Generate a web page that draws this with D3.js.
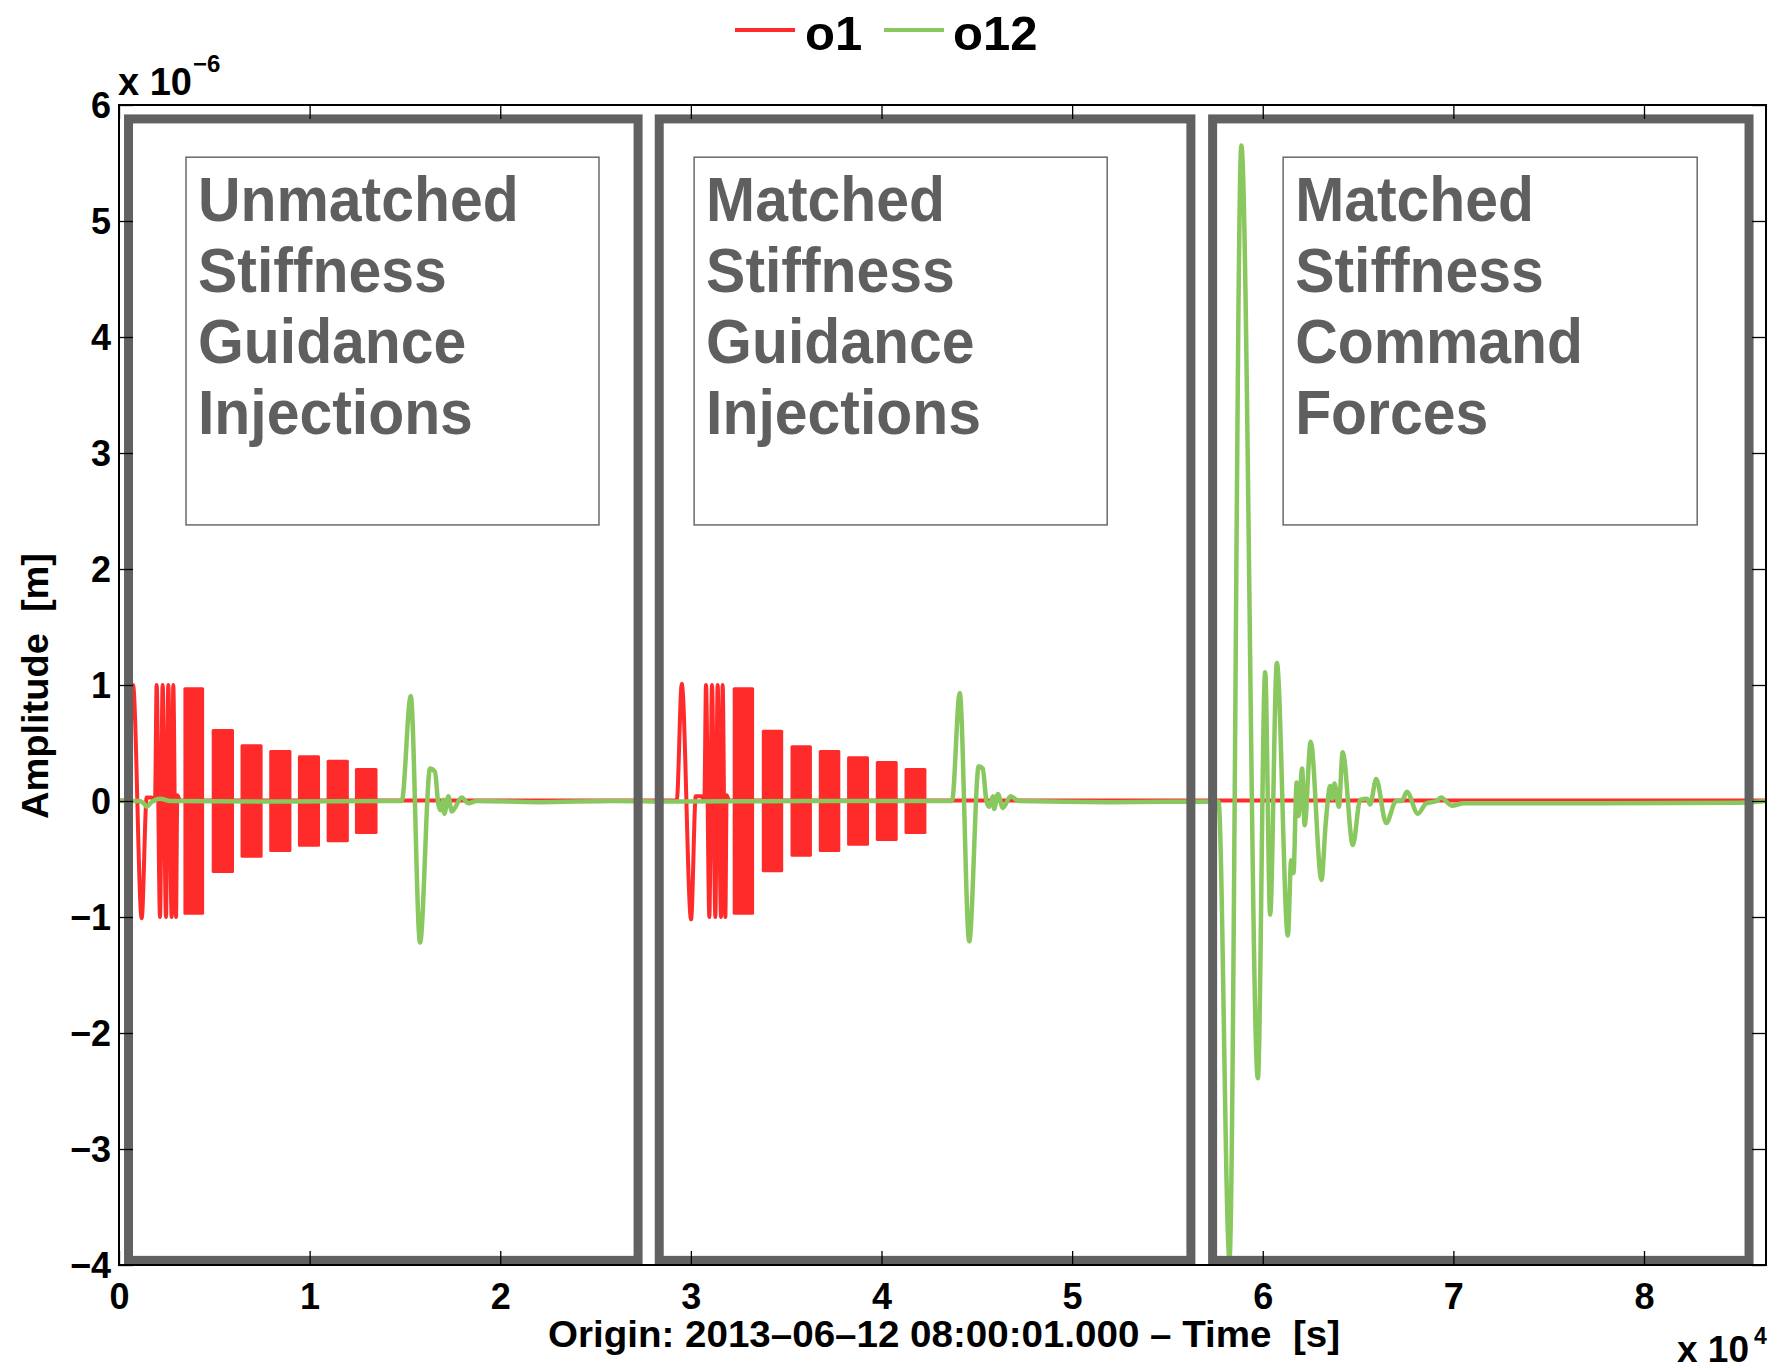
<!DOCTYPE html>
<html>
<head>
<meta charset="utf-8">
<script src="https://cdn.jsdelivr.net/npm/d3@7"></script>
<style>
  body { margin: 0; background: #fff; }
  svg { display: block; }
</style>
</head>
<body>
<svg id="chart" width="1778" height="1370"></svg>
<script>
// ---- axis ticks: time in units of 10^4 s, amplitude in units of 10^-6 m ----
const xTickValues = [0, 10000, 20000, 30000, 40000, 50000, 60000, 70000, 80000];
const xTickLabels = ["0", "1", "2", "3", "4", "5", "6", "7", "8"];
const yTickValues = [-4, -3, -2, -1, 0, 1, 2, 3, 4, 5, 6];
const yTickLabels = ["\u22124", "\u22123", "\u22122", "\u22121", "0", "1", "2", "3", "4", "5", "6"];

const seriesNames = ["o1", "o12"];

// o1: baseline plus the slow single-cycle and few-cycle injections [t (s), amplitude]
const o1Trace = [
  [0, 0.005], [456, 0.005], [735, 1.0], [1190, -1.01], [1453, 0.03], [1700, 0.03], [1889, 0.005],
  [1976, 1.0], [2151, -1.0], [2290, 1.0], [2466, -1.0], [2586, 1.0], [2763, -1.0], [2848, 1.0],
  [2990, -1.0], [3059, 0.05], [3200, 0.005],
  [29260, 0.005], [29522, 1.01], [30010, -1.02], [30257, 0.04], [30560, 0.04], [30707, 0.005],
  [30794, 1.0], [30969, -1.0], [31108, 1.0], [31284, -1.0], [31404, 1.0], [31581, -1.0], [31666, 1.0],
  [31808, -1.0], [31877, 0.05], [32000, 0.005],
  [86400, 0.005]
];

// o1: fast sinusoidal bursts, drawn as their envelope
const burstStart = [3379, 4864, 6375, 7880, 9386, 10892, 12377,
                    32193, 33720, 35226, 36710, 38195, 39701, 41207];
const burstEnd   = [4465, 6033, 7534, 9045, 10545, 12057, 13562,
                    33316, 34843, 36349, 37838, 39344, 40850, 42356];
const burstAmp   = [0.98, 0.62, 0.49, 0.44, 0.395, 0.355, 0.285,
                    0.98, 0.615, 0.48, 0.44, 0.385, 0.345, 0.285];

// o12 response [t (s), amplitude]
const o12Trace = [
  [0, 0.0], [1050, 0.0], [1300, -0.02], [1453, -0.05], [1700, -0.01], [2150, 0.02], [2700, 0.0],
  [8000, -0.005], [14600, 0.0], [14832, 0.0],
  [15304, 0.905], [15792, -1.22], [16317, 0.28], [16579, 0.25], [16752, -0.03], [16878, -0.08],
  [17014, 0.01], [17067, -0.11], [17277, 0.04], [17455, -0.09], [17980, 0.03], [18326, -0.02],
  [18767, 0.0], [22000, -0.01], [26000, 0.0], [29000, -0.005], [36000, 0.0], [43400, 0.0], [43699, 0.0],
  [44103, 0.93], [44601, -1.21], [45100, 0.30], [45310, 0.28], [45504, 0.0], [45645, -0.05],
  [45850, 0.04], [45907, -0.07], [46107, 0.06], [46369, -0.06], [46773, 0.04], [47214, 0.0],
  [52000, -0.01], [57676, -0.005],
  [58253, -3.95], [58877, 5.65], [59743, -2.39], [60126, 1.11], [60388, -0.98], [60740, 1.19],
  [61317, -1.16], [61490, -0.51], [61611, -0.62], [61779, 0.16], [61873, -0.13], [62067, 0.28],
  [62198, -0.21], [62513, 0.51], [63080, -0.68], [63300, -0.2], [63536, 0.13], [63641, 0.02],
  [63762, 0.15], [63993, -0.05], [64192, 0.42], [64727, -0.38], [65110, 0.01], [65462, 0.02],
  [65635, -0.03], [65950, 0.19], [66474, -0.19], [66999, 0.0], [67298, 0.0], [67560, 0.08],
  [68137, -0.11], [68573, -0.02], [69134, 0.0], [69344, 0.03], [69921, -0.04], [70530, -0.02],
  [78000, -0.02], [85000, -0.015], [86400, 0.0]
];

// experiment phases (time windows) and their descriptions
const phaseStart = [500, 28340, 57370];
const phaseEnd   = [27230, 56230, 85510];
const noteStart  = [3515, 30170, 61070];
const noteEnd    = [25180, 51840, 82790];
const phaseLabels = [
  ["Unmatched", "Stiffness", "Guidance", "Injections"],
  ["Matched", "Stiffness", "Guidance", "Injections"],
  ["Matched", "Stiffness", "Command", "Forces"]
];

// ---- drawing ----
const FONT = "'Liberation Sans', Arial, Helvetica, sans-serif";
const RED = "#ff2a2a";
const GREEN = "#88c85f";
const FRAME = "#616161";

const x = d3.scaleLinear().domain([0, 86400]).range([119, 1766]);
const y = d3.scaleLinear().domain([-4, 6]).range([1265, 105]);

const svg = d3.select("#chart");
svg.append("rect").attr("width", 1778).attr("height", 1370).attr("fill", "#fff");

svg.append("defs").append("clipPath").attr("id", "plotClip")
  .append("rect").attr("x", x(0)).attr("y", y(6))
  .attr("width", x(86400) - x(0)).attr("height", y(-4) - y(6));

const plot = svg.append("g").attr("clip-path", "url(#plotClip)");

const line = d3.line().x(d => x(d[0])).y(d => y(d[1])).curve(d3.curveMonotoneX);

// o1 trace
plot.append("path").datum(o1Trace)
  .attr("d", line).attr("fill", "none")
  .attr("stroke", RED).attr("stroke-width", 4)
  .attr("stroke-linejoin", "round").attr("stroke-linecap", "round");

// o1 bursts
plot.selectAll("rect.burst").data(burstStart).join("rect")
  .attr("class", "burst")
  .attr("x", d => x(d))
  .attr("width", (d, i) => x(burstEnd[i]) - x(d))
  .attr("y", (d, i) => y(burstAmp[i]))
  .attr("height", (d, i) => y(-burstAmp[i]) - y(burstAmp[i]))
  .attr("rx", 1.5)
  .attr("fill", RED);

// o12 trace
plot.append("path").datum(o12Trace)
  .attr("d", line).attr("fill", "none")
  .attr("stroke", GREEN).attr("stroke-width", 4.5)
  .attr("stroke-linejoin", "round").attr("stroke-linecap", "round");

// phase frames
plot.selectAll("rect.phase").data(phaseStart).join("rect")
  .attr("class", "phase")
  .attr("x", d => x(d))
  .attr("width", (d, i) => x(phaseEnd[i]) - x(d))
  .attr("y", y(5.88))
  .attr("height", y(-3.96) - y(5.88))
  .attr("fill", "none")
  .attr("stroke", FRAME).attr("stroke-width", 9);

// phase description boxes
const notes = svg.append("g");
notes.selectAll("rect.note").data(noteStart).join("rect")
  .attr("class", "note")
  .attr("x", d => x(d))
  .attr("width", (d, i) => x(noteEnd[i]) - x(d))
  .attr("y", y(5.55))
  .attr("height", y(2.38) - y(5.55))
  .attr("fill", "none")
  .attr("stroke", "#6a6a6a").attr("stroke-width", 1.5);

phaseLabels.forEach((lines, i) => {
  lines.forEach((txt, j) => {
    notes.append("text")
      .attr("transform", `translate(${x(noteStart[i]) + 12},${221 + j * 71}) scale(0.935,1)`)
      .attr("font-family", FONT).attr("font-weight", "bold")
      .attr("font-size", 63).attr("fill", "#5f5f5f")
      .text(txt);
  });
});

// axes
function styleAxis(g) {
  g.select(".domain").remove();
  g.selectAll(".tick line").attr("stroke", "#000").attr("stroke-width", 1.3);
  g.selectAll(".tick text")
    .attr("font-family", FONT).attr("font-weight", "bold")
    .attr("font-size", 36).attr("fill", "#000");
}

svg.append("g").attr("transform", `translate(0,${y(-4)})`)
  .call(d3.axisBottom(x).tickValues(xTickValues)
    .tickFormat((d, i) => xTickLabels[i])
    .tickSizeInner(-14).tickSizeOuter(0).tickPadding(18))
  .call(styleAxis);

svg.append("g").attr("transform", `translate(0,${y(6)})`)
  .call(d3.axisTop(x).tickValues(xTickValues).tickFormat("")
    .tickSizeInner(-14).tickSizeOuter(0))
  .call(styleAxis);

svg.append("g").attr("transform", `translate(${x(0)},0)`)
  .call(d3.axisLeft(y).tickValues(yTickValues)
    .tickFormat((d, i) => yTickLabels[i])
    .tickSizeInner(-14).tickSizeOuter(0).tickPadding(8))
  .call(styleAxis)
  .call(g => g.selectAll(".tick text").attr("dy", "0.34em"));

svg.append("g").attr("transform", `translate(${x(86400)},0)`)
  .call(d3.axisRight(y).tickValues(yTickValues).tickFormat("")
    .tickSizeInner(-14).tickSizeOuter(0))
  .call(styleAxis);

// axes box
svg.append("rect")
  .attr("x", x(0)).attr("y", y(6))
  .attr("width", x(86400) - x(0)).attr("height", y(-4) - y(6))
  .attr("fill", "none").attr("stroke", "#000").attr("stroke-width", 2);

// exponent labels
const yExp = svg.append("text").attr("font-family", FONT).attr("font-weight", "bold").attr("fill", "#000");
yExp.append("tspan").attr("x", 118).attr("y", 95).attr("font-size", 38).text("x 10");
yExp.append("tspan").attr("x", 193).attr("y", 72).attr("font-size", 24).text("\u22126");

const xExp = svg.append("text").attr("font-family", FONT).attr("font-weight", "bold").attr("fill", "#000");
xExp.append("tspan").attr("x", 1677).attr("y", 1362).attr("font-size", 37).text("x 10");
xExp.append("tspan").attr("x", 1754).attr("y", 1344).attr("font-size", 23).text("4");

// axis titles
svg.append("text")
  .attr("x", 548).attr("y", 1347)
  .attr("font-family", FONT).attr("font-weight", "bold").attr("font-size", 37)
  .attr("textLength", 792).attr("lengthAdjust", "spacingAndGlyphs")
  .style("white-space", "pre")
  .text("Origin: 2013\u201306\u201312 08:00:01.000 \u2013 Time  [s]");

svg.append("text")
  .attr("transform", "translate(48,819) rotate(-90)")
  .attr("font-family", FONT).attr("font-weight", "bold").attr("font-size", 37)
  .attr("textLength", 266).attr("lengthAdjust", "spacingAndGlyphs")
  .style("white-space", "pre")
  .text("Amplitude  [m]");

// legend
const legend = svg.append("g");
const legendColors = [RED, GREEN];
const legendLineX = [735, 884];
const legendTextX = [805, 953];
seriesNames.forEach((name, i) => {
  legend.append("line")
    .attr("x1", legendLineX[i]).attr("x2", legendLineX[i] + 60)
    .attr("y1", 30).attr("y2", 30)
    .attr("stroke", legendColors[i]).attr("stroke-width", 4);
  legend.append("text")
    .attr("x", legendTextX[i]).attr("y", 50)
    .attr("font-family", FONT).attr("font-weight", "bold").attr("font-size", 49)
    .attr("fill", "#000")
    .text(name);
});
</script>
</body>
</html>
